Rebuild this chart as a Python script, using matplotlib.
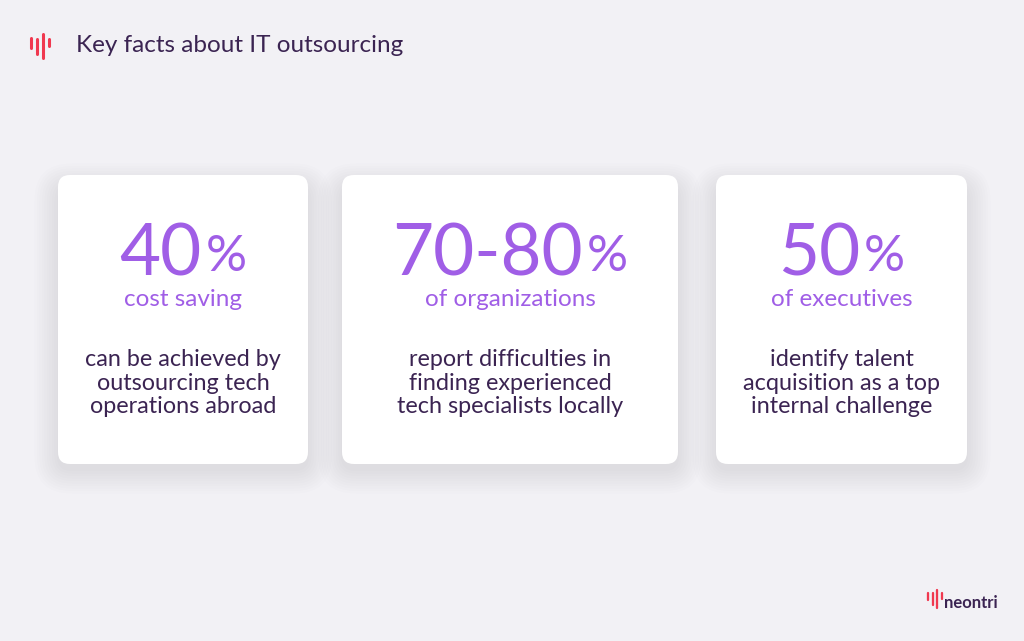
import matplotlib
matplotlib.use("Agg")
import matplotlib.pyplot as plt
from matplotlib.patches import FancyBboxPatch

plt.rcParams['font.family'] = ['Lato', 'DejaVu Sans']

title = "Key facts about IT outsourcing"
numbers = ["40", "70-80", "50"]
subtitles = ["cost saving", "of organizations", "of executives"]
bodies = [
    "can be achieved by\noutsourcing tech\noperations abroad",
    "report difficulties in\nfinding experienced\ntech specialists locally",
    "identify talent\nacquisition as a top\ninternal challenge",
]
card_left = [58, 342, 716]
card_right = [308, 678, 967]

BG = "#f2f1f5"
PURPLE = "#a05ee6"
DARK = "#3b2452"
RED = "#f0384f"

fig = plt.figure(figsize=(10.24, 6.41), dpi=100)
fig.patch.set_facecolor(BG)
ax = fig.add_axes([0, 0, 1, 1])
ax.set_xlim(0, 1024)
ax.set_ylim(641, 0)
ax.axis("off")


def logo(ax, x, y, scale, color):
    # little waveform mark
    bars = [(0, -6, 4), (6, -5, 10), (12, -10, 14), (18, -5, 2)]
    for dx, top, bot in bars:
        ax.plot([x + dx * scale, x + dx * scale], [y + top * scale, y + bot * scale],
                color=color, lw=2.2 * scale, solid_capstyle="round")


logo(ax, 31, 44, 1.0, RED)
ax.text(76, 46, title, fontsize=17.5, color=DARK, va="center", ha="left")

top, bottom = 175, 464
for i in range(3):
    x0, x1 = card_left[i], card_right[i]
    # soft shadow
    for k in range(10):
        pad = 3 + k * 2.5
        sh = FancyBboxPatch((x0 - pad + 2, top - pad + 14), x1 - x0 + 2 * pad - 4, bottom - top + 2 * pad - 10,
                            boxstyle="round,pad=0,rounding_size=%d" % (12 + pad),
                            fc="#5a4a80", ec="none", alpha=0.012)
        ax.add_patch(sh)
    card = FancyBboxPatch((x0, top), x1 - x0, bottom - top,
                          boxstyle="round,pad=0,rounding_size=12", fc="white", ec="none")
    ax.add_patch(card)
    cx = (x0 + x1) / 2

    num = ax.text(cx, 275, numbers[i], fontsize=51, color=PURPLE, ha="center", va="baseline")
    pct = ax.text(cx, 271, "%", fontsize=37, color=PURPLE, ha="left", va="baseline")
    fig.canvas.draw()
    r = fig.canvas.get_renderer()
    wn = num.get_window_extent(r).width
    wp = pct.get_window_extent(r).width
    gap = 4
    total = wn + gap + wp
    start = cx - total / 2
    num.set_ha("left")
    num.set_x(start)
    pct.set_x(start + wn + gap)

    ax.text(cx, 300, subtitles[i], fontsize=17.5, color=PURPLE, ha="center", va="center")
    ax.text(cx, 383, bodies[i], fontsize=16.8, color=DARK, ha="center", va="center",
            linespacing=1.15)

logo(ax, 928, 597, 0.75, RED)
ax.text(944, 603, "neontri", fontsize=12, color=DARK, ha="left", va="center", fontweight="bold")

fig.savefig("out.png", dpi=100, facecolor=BG)
